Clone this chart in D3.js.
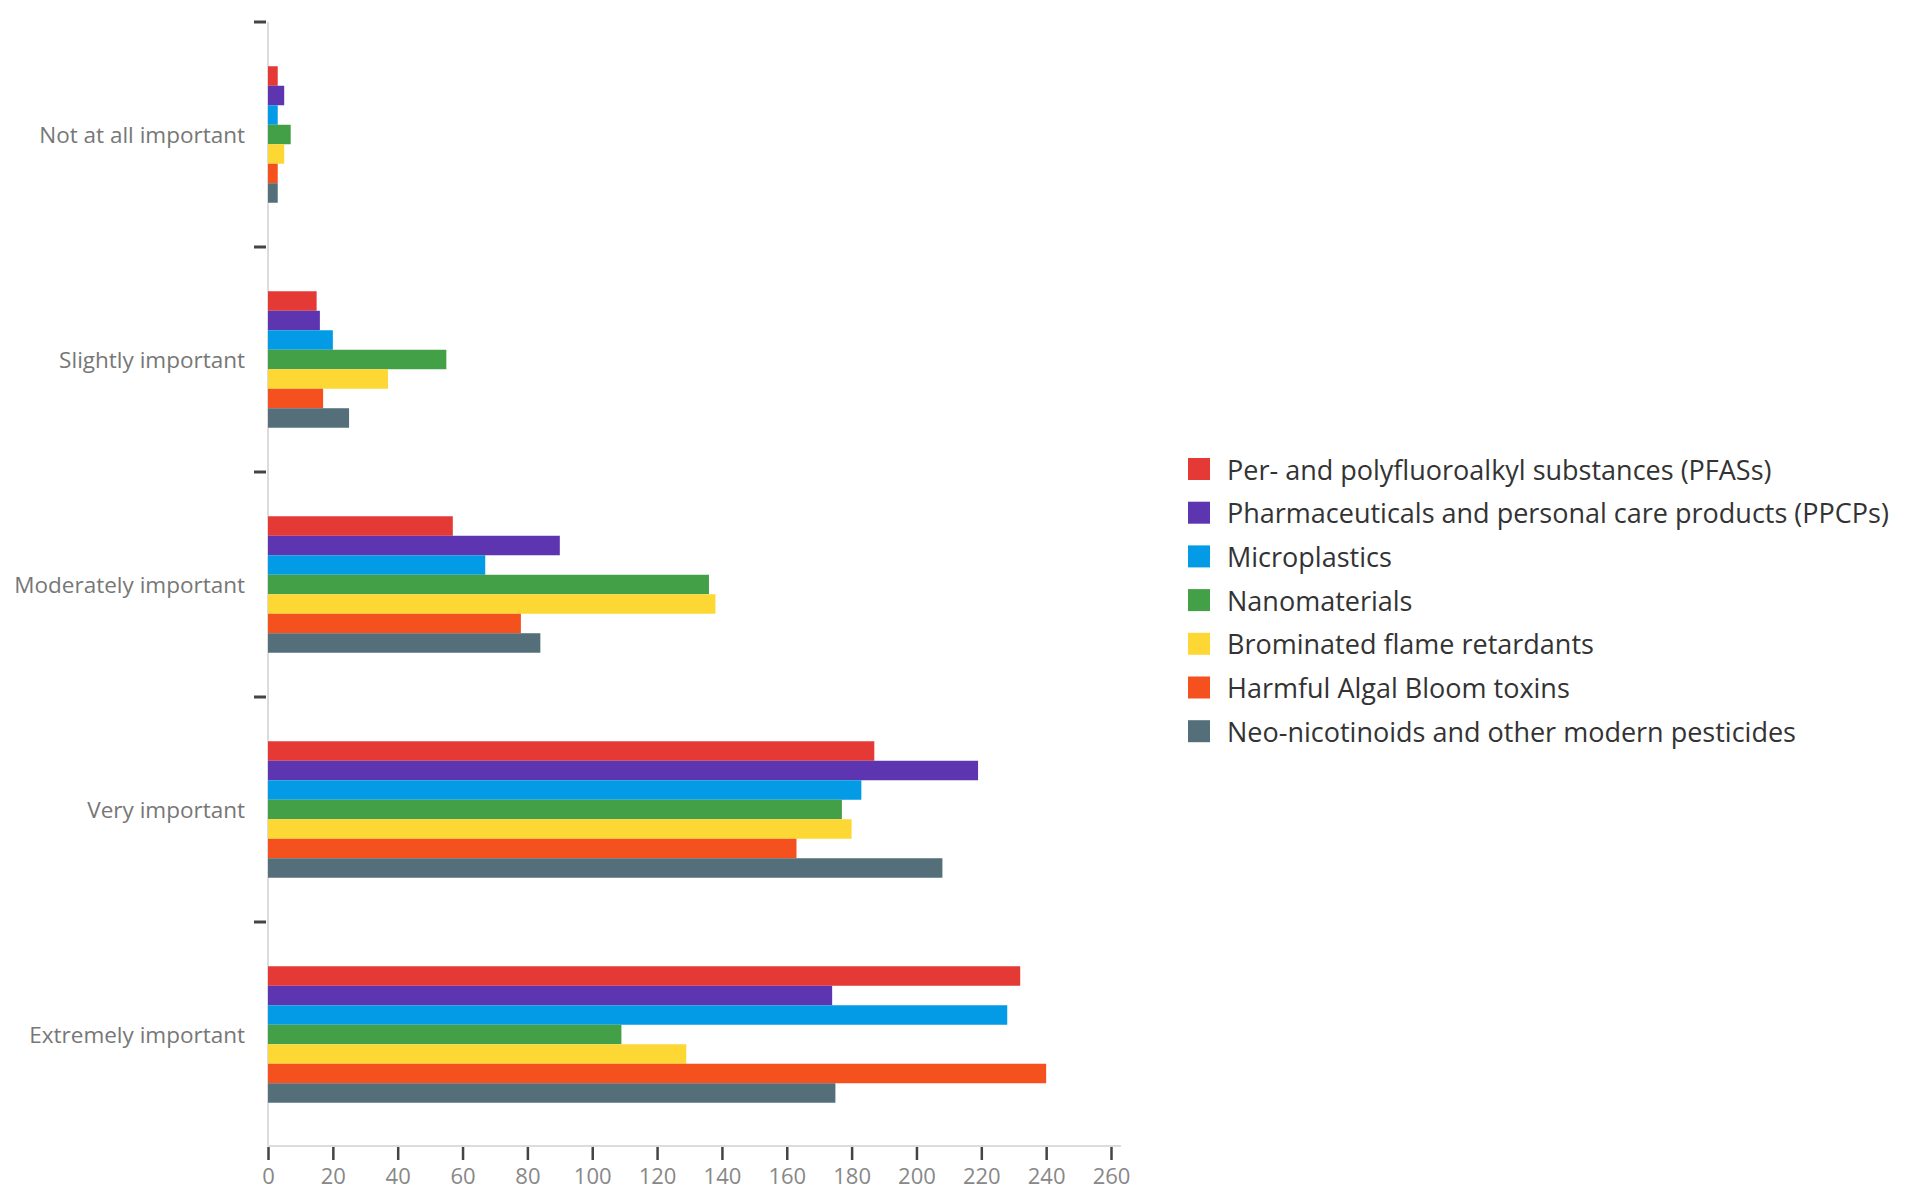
<!DOCTYPE html>
<html>
<head>
<meta charset="utf-8">
<script src="https://cdn.jsdelivr.net/npm/d3@7/dist/d3.min.js"></script>
<style>
  html, body { margin: 0; padding: 0; background: #fff; }
  svg { display: block; }
</style>
</head>
<body>
<svg id="chart" width="1921" height="1196"></svg>
<script>
const categories = ["Not at all important", "Slightly important", "Moderately important", "Very important", "Extremely important"];
const seriesNames = [
  "Per- and polyfluoroalkyl substances (PFASs)",
  "Pharmaceuticals and personal care products (PPCPs)",
  "Microplastics",
  "Nanomaterials",
  "Brominated flame retardants",
  "Harmful Algal Bloom toxins",
  "Neo-nicotinoids and other modern pesticides"
];
const seriesColors = ["#e53935", "#5e35b1", "#039be5", "#43a047", "#fdd835", "#f4511e", "#546e7a"];
// values[series][category]
const pfas   = [3, 15, 57, 187, 232];
const ppcps  = [5, 16, 90, 219, 174];
const micro  = [3, 20, 67, 183, 228];
const nano   = [7, 55, 136, 177, 109];
const bfr    = [5, 37, 138, 180, 129];
const habt   = [3, 17, 78, 163, 240];
const neonic = [3, 25, 84, 208, 175];
const seriesValues = [pfas, ppcps, micro, nano, bfr, habt, neonic];
const xTicks = [0, 20, 40, 60, 80, 100, 120, 140, 160, 180, 200, 220, 240, 260];

(function () {
const svg = d3.select("#chart");
const mLeft = 268, mRight = 1111, mTop = 22, mBottom = 1147;

const x = d3.scaleLinear().domain([0, 260]).range([mLeft, mRight]);
const y0 = d3.scaleBand().domain(categories).range([mTop, mBottom]).padding(0);
const y1 = d3.scaleBand().domain(seriesNames).range([0, y0.bandwidth()]).paddingInner(0).paddingOuter(2.27);

// axis lines
svg.append("line").attr("x1", mLeft).attr("x2", mLeft).attr("y1", mTop).attr("y2", mBottom - 1)
  .attr("stroke", "#dcdcdc").attr("stroke-width", 2);
svg.append("line").attr("x1", mLeft).attr("x2", 1121).attr("y1", mBottom - 1).attr("y2", mBottom - 1)
  .attr("stroke", "#dcdcdc").attr("stroke-width", 2);

// category separator ticks
svg.append("g").selectAll("line").data(categories).join("line")
  .attr("x1", 254).attr("x2", 266)
  .attr("y1", d => y0(d)).attr("y2", d => y0(d))
  .attr("stroke", "#444").attr("stroke-width", 3);

// category labels
svg.append("g").selectAll("text").data(categories).join("text")
  .attr("x", 245).attr("y", d => y0(d) + y0.bandwidth() / 2)
  .attr("text-anchor", "end").attr("dominant-baseline", "central")
  .attr("font-family", "'Open Sans', sans-serif").attr("font-size", 22.5)
  .attr("fill", "#777").text(d => d);

// bars
const groups = svg.append("g").selectAll("g").data(categories).join("g")
  .attr("transform", d => `translate(0,${y0(d)})`);
groups.selectAll("rect")
  .data((c, ci) => seriesNames.map((s, si) => ({ s, si, v: seriesValues[si][ci] })))
  .join("rect")
  .attr("x", x(0))
  .attr("y", d => y1(d.s))
  .attr("width", d => x(d.v) - x(0))
  .attr("height", y1.bandwidth())
  .attr("fill", d => seriesColors[d.si]);

// x axis
const xAxis = d3.axisBottom(x).tickValues(xTicks).tickSize(13).tickPadding(8);
const gx = svg.append("g").attr("transform", `translate(0,${mBottom})`).call(xAxis);
gx.select(".domain").remove();
gx.selectAll(".tick line").attr("stroke", "#444").attr("stroke-width", 2.5);
gx.selectAll(".tick text").attr("font-family", "'Open Sans', sans-serif").attr("font-size", 22).attr("fill", "#888");

// legend
const legend = svg.append("g").attr("transform", "translate(1188,469)");
const li = legend.selectAll("g").data(seriesNames).join("g")
  .attr("transform", (d, i) => `translate(0,${i * 43.7})`);
li.append("rect").attr("x", 0).attr("y", -11).attr("width", 22).attr("height", 22)
  .attr("fill", (d, i) => seriesColors[i]);
li.append("text").attr("x", 39).attr("y", 0).attr("dominant-baseline", "central")
  .attr("font-family", "'Open Sans', sans-serif").attr("font-size", 27).attr("fill", "#333")
  .text(d => d);
})();
</script>
</body>
</html>
